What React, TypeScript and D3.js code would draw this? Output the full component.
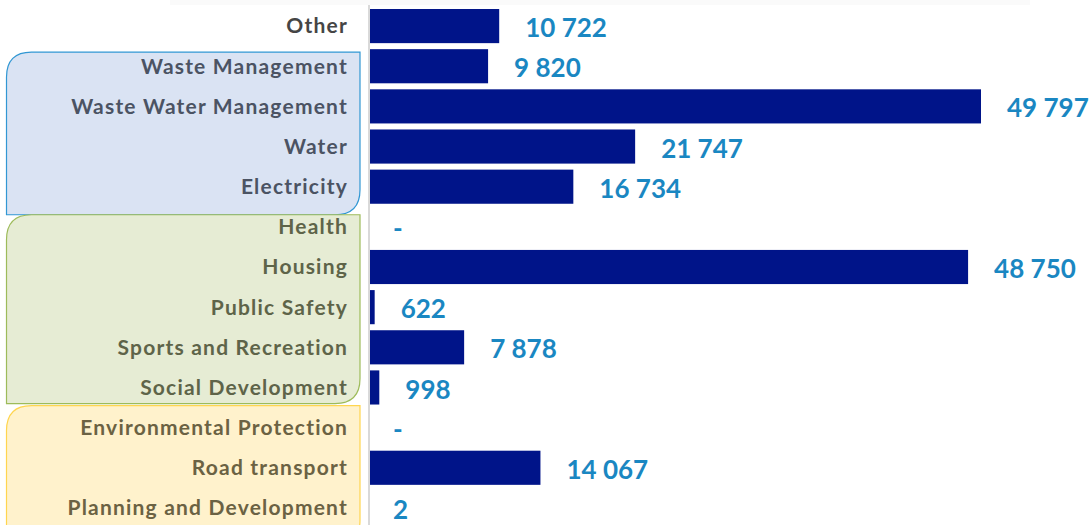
import * as d3 from "d3";
import { useEffect, useRef } from "react";

const categories = [
  "Other",
  "Waste Management",
  "Waste Water Management",
  "Water",
  "Electricity",
  "Health",
  "Housing",
  "Public Safety",
  "Sports and Recreation",
  "Social Development",
  "Environmental Protection",
  "Road transport",
  "Planning and Development",
];

const values = [10722, 9820, 49797, 21747, 16734, 0, 48750, 622, 7878, 998, 0, 14067, 2];

// row groups shown as rounded panels behind the category labels
const groups = [
  { first: 1, last: 4, fill: "#dae3f3", stroke: "#3197d3", text: "#4b5363" },
  { first: 5, last: 9, fill: "#e6ecd4", stroke: "#9dbb5a", text: "#5e6449" },
  { first: 10, last: 12, fill: "#fff2cc", stroke: "#ffd54f", text: "#6b6243" },
];

const WIDTH = 1092;
const HEIGHT = 525;

function fmt(v: number): string {
  if (v === 0) return "-";
  return d3.format(",")(v).replace(/,/g, " ");
}

function panelPath(x0: number, y0: number, x1: number, y1: number, r: number) {
  // rounded top-left and bottom-right corners only
  return `M${x0},${y0 + r} Q${x0},${y0} ${x0 + r},${y0} L${x1},${y0} L${x1},${y1 - r} Q${x1},${y1} ${x1 - r},${y1} L${x0},${y1} Z`;
}

export default function App() {
  const ref = useRef<SVGSVGElement | null>(null);

  useEffect(() => {
    if (!ref.current) return;
    const axisX = 370;

    const y = d3.scaleBand<string>().domain(categories).range([6, 528]).paddingInner(0.15).paddingOuter(0.075);
    const x = d3.scaleLinear().domain([0, 49797]).range([367, 981]);
    const bw = y.bandwidth();

    const svg = d3.select(ref.current);
    svg.selectAll("*").remove();

    svg.append("rect").attr("x", 170).attr("y", 0).attr("width", 860).attr("height", 5).attr("fill", "#fafafa");

    const labelColor = (i: number) => {
      const g = groups.find((g) => i >= g.first && i <= g.last);
      return g ? g.text : "#454545";
    };

    // panels
    const panelBounds = [
      [y(categories[1])! + 3, y(categories[4])! + bw + 11],
      [y(categories[4])! + bw + 11, y(categories[9])! + bw - 1],
      [y(categories[10])! - 5, HEIGHT + 20],
    ];
    groups.forEach((g, i) => {
      const [t, b] = panelBounds[i];
      svg
        .append("path")
        .attr("d", panelPath(6.5, t, 360, b, 25))
        .attr("fill", g.fill)
        .attr("stroke", g.stroke)
        .attr("stroke-width", 1.2);
    });

    // axis line
    svg.append("line").attr("x1", 369).attr("x2", 369).attr("y1", 5).attr("y2", HEIGHT).attr("stroke", "#d9d9d9").attr("stroke-width", 2);

    // category labels
    svg
      .append("g")
      .selectAll("text")
      .data(categories)
      .join("text")
      .attr("x", 348)
      .attr("y", (d) => y(d)! + bw / 2)
      .attr("dy", "0.35em")
      .attr("text-anchor", "end")
      .attr("fill", (_, i) => labelColor(i))
      .style("font-family", "Lato, 'DejaVu Sans', sans-serif")
      .style("font-weight", "700")
      .style("font-size", "21px")
      .style("letter-spacing", "1.2px")
      .text((d) => d);

    // bars
    svg
      .append("g")
      .selectAll("rect")
      .data(values)
      .join("rect")
      .attr("x", axisX)
      .attr("y", (_, i) => y(categories[i])!)
      .attr("height", bw)
      .attr("width", (v) => Math.max(0, x(v) - axisX))
      .attr("fill", "#001489");

    // value labels
    svg
      .append("g")
      .selectAll("text")
      .data(values)
      .join("text")
      .attr("x", (v) => x(v) + 26)
      .attr("y", (_, i) => y(categories[i])! + bw / 2 + 2)
      .attr("dy", "0.35em")
      .attr("fill", "#1a87c2")
      .style("font-family", "Lato, 'DejaVu Sans', sans-serif")
      .style("font-weight", "700")
      .style("font-size", "26px")
      .text((v) => fmt(v));
  }, []);

  return (
    <svg
      ref={ref}
      width={WIDTH}
      height={HEIGHT}
      style={{ position: "absolute", left: 0, top: 0, background: "#ffffff" }}
      role="img"
      aria-label="Values by function"
    />
  );
}
